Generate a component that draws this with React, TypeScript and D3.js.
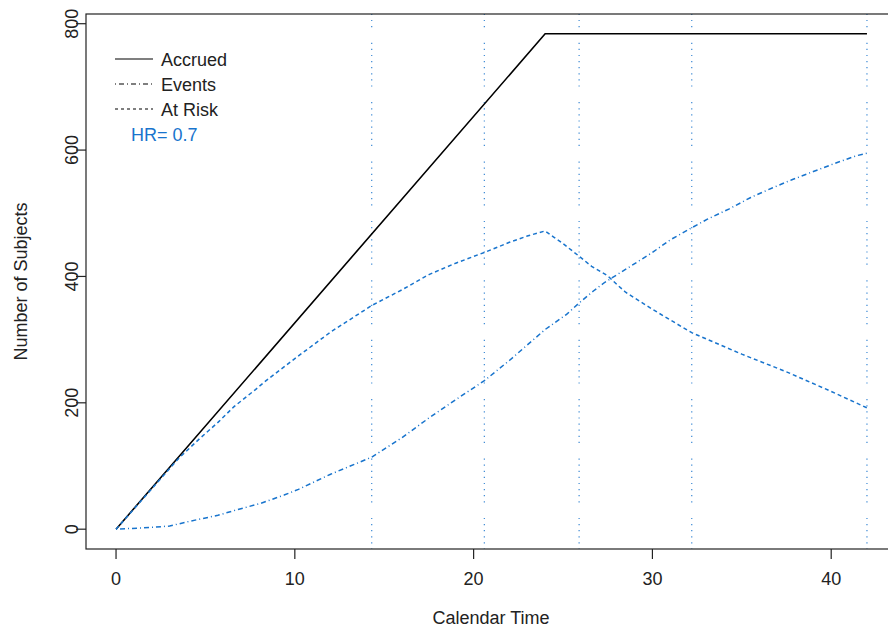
import React from 'react';
import * as d3 from 'd3';

const accruedTime = [0, 24, 42];
const accruedN = [0, 784, 784];

const eventTime = [0, 1.5, 3, 4.2, 5.7, 6.8, 8.1, 9.4, 10.2, 12, 14.3, 16, 17.5, 19, 20.6, 22, 24, 25.2, 25.9, 26.7, 27.3, 28.6, 30, 31, 32.2, 33.1, 34.3, 35.5, 36.7, 37.8, 39, 40.3, 41.4, 42];
const eventN = [0, 2, 5, 13, 22, 31, 41, 54, 63, 87, 114, 145, 176, 205, 235, 267, 316, 340, 358, 377, 390, 413, 438, 458, 477, 491, 507, 525, 540, 553, 566, 580, 591, 595];

const atRiskTime = [0, 2, 3.5, 4.7, 5.7, 6.6, 7.8, 8.3, 10, 12, 14.3, 16, 17.5, 19, 20.6, 22, 23, 24, 24.5, 25, 25.9, 26.6, 27.5, 28.1, 28.5, 30, 32.2, 35, 37.5, 40, 42];
const atRiskN = [0, 64, 112, 144, 169, 194, 221, 233, 270, 312, 354, 379, 403, 421, 438, 454, 464, 472, 462, 452, 432, 416, 401, 385, 375, 348, 311, 277, 249, 218, 192];

const analysisTimes = [14.3, 20.6, 25.9, 32.2, 42];
const xTicks = [0, 10, 20, 30, 40];
const yTicks = [0, 200, 400, 600, 800];
const legendLabels = ['Accrued', 'Events', 'At Risk'];
const hrLabel = 'HR= 0.7';
const xTitle = 'Calendar Time';
const yTitle = 'Number of Subjects';

const W = 888;
const H = 631;
const L = 86, R = 897, T = 14, B = 549;
const BLUE = '#1874CD';
const FONT = '"Liberation Sans", Arial, sans-serif';

export default function App() {
  const xPad = (42 - 0) * 0.04;
  const yPad = (784 - 0) * 0.04;
  const x = d3.scaleLinear().domain([0 - xPad, 42 + xPad]).range([L, R]);
  const y = d3.scaleLinear().domain([0 - yPad, 784 + yPad]).range([B, T]);

  const line = d3.line<[number, number]>().x(d => x(d[0])).y(d => y(d[1]));
  const acc = line(accruedTime.map((t, i) => [t, accruedN[i]]))!;
  const ev = line(eventTime.map((t, i) => [t, eventN[i]]))!;
  const ar = line(atRiskTime.map((t, i) => [t, atRiskN[i]]))!;

  const dotPattern = '1.2,4.9,1.2,4.9,1.2,4.9,1.2,4.9,1.2,4.9,1.2,4.9,1.2,4.9,1.2,15.5';
  const legY = [59, 84, 109];

  return (
    <svg width={W} height={H} style={{ position: 'absolute', left: 0, top: 0, background: '#fff' }} fontFamily={FONT}>
      <defs>
        <clipPath id="plotClip">
          <rect x={L} y={T} width={R - L} height={B - T} />
        </clipPath>
      </defs>
      <rect x={0} y={0} width={W} height={H} fill="#fff" />
      <g clipPath="url(#plotClip)">
        {analysisTimes.map((t, i) => (
          <line key={i} x1={x(t)} x2={x(t)} y1={T} y2={B} stroke={BLUE} strokeWidth={1.2}
            strokeDasharray={dotPattern} strokeDashoffset={30.7} opacity={0.85} />
        ))}
        <path d={acc} fill="none" stroke="#000" strokeWidth={1.6} />
        <path d={ev} fill="none" stroke={BLUE} strokeWidth={1.5} strokeDasharray="1,3,5,3" />
        <path d={ar} fill="none" stroke={BLUE} strokeWidth={1.5} strokeDasharray="4,3" />
      </g>
      <rect x={L} y={T} width={R - L} height={B - T} fill="none" stroke="#222" strokeWidth={1.2} />
      {xTicks.map(t => (
        <g key={t}>
          <line x1={x(t)} x2={x(t)} y1={B} y2={B + 10} stroke="#222" strokeWidth={1.2} />
          <text x={x(t)} y={B + 36} textAnchor="middle" fontSize={18} fill="#222">{t}</text>
        </g>
      ))}
      {yTicks.map(v => (
        <g key={v}>
          <line x1={L} x2={L - 10} y1={y(v)} y2={y(v)} stroke="#222" strokeWidth={1.2} />
          <text transform={`translate(${L - 8},${y(v)}) rotate(-90)`} textAnchor="middle" fontSize={18} fill="#222">{v}</text>
        </g>
      ))}
      <text x={(L + 888) / 2 + 4} y={624} textAnchor="middle" fontSize={18} fill="#222">{xTitle}</text>
      <text transform={`translate(27,${(T + B) / 2}) rotate(-90)`} textAnchor="middle" fontSize={18} fill="#222">{yTitle}</text>
      {legendLabels.map((lab, i) => (
        <g key={lab}>
          <line x1={115} x2={153} y1={legY[i]} y2={legY[i]} stroke="#000" strokeWidth={1.2}
            strokeDasharray={i === 0 ? undefined : i === 1 ? '1,3,5,3' : '3,3'} />
          <text x={161} y={legY[i] + 6.5} fontSize={18} fill="#222">{lab}</text>
        </g>
      ))}
      <text x={131} y={141} fontSize={18} fill={BLUE}>{hrLabel}</text>
    </svg>
  );
}
